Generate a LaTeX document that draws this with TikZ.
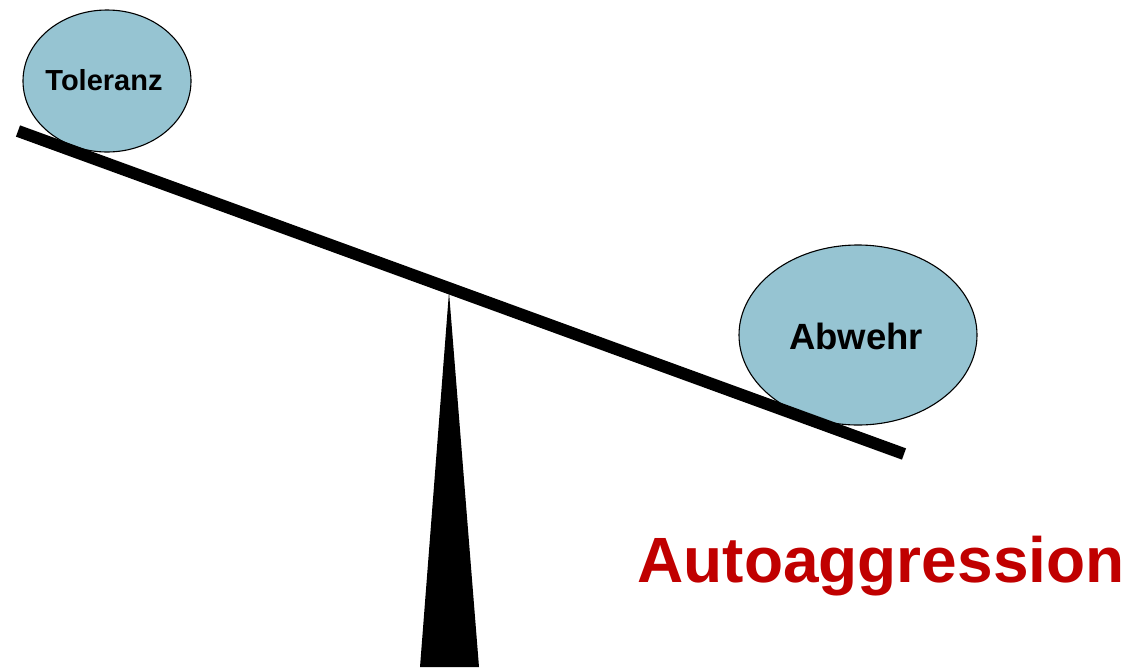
\documentclass[tikz,border=0pt]{standalone}
\usepackage{fontspec}
\setmainfont{Liberation Sans}
\usetikzlibrary{shapes.geometric}
\definecolor{ballblue}{RGB}{150,196,210}
\definecolor{autored}{RGB}{192,0,0}
\begin{document}
\begin{tikzpicture}[x=1pt,y=-1pt,
  ball/.style={ellipse, draw=black, line width=1.1pt, fill=ballblue, inner sep=0pt},
  beam/.style={line width=12pt, draw=black},
  lbl/.style={text=black}]
\useasboundingbox (0,0) rectangle (1126,667);
% fulcrum
\coordinate (apex) at (449,292);
\coordinate (bl) at (420,667);
\coordinate (br) at (479,667);
\fill[black] (apex) -- (br) -- (bl) -- cycle;
% balls
\node[ball, minimum width=168pt, minimum height=142pt] (tol) at (107,81) {};
\node[lbl, font=\fontsize{29}{31}\selectfont\bfseries] (toltext) at (104,80) {Toleranz};
\node[ball, minimum width=238pt, minimum height=180pt] (abw) at (858,335) {};
\node[lbl, font=\fontsize{36.5}{40}\selectfont\bfseries] (abwtext) at (856,336) {Abwehr};
% beam
\coordinate (bstart) at (18,131);
\coordinate (bend) at (904,454);
\draw[beam] (bstart) -- (bend);
% label
\node[anchor=base, text=autored, font=\fontsize{64}{70}\selectfont\bfseries] (auto) at (881,582) {Autoaggression};
\end{tikzpicture}
\end{document}
